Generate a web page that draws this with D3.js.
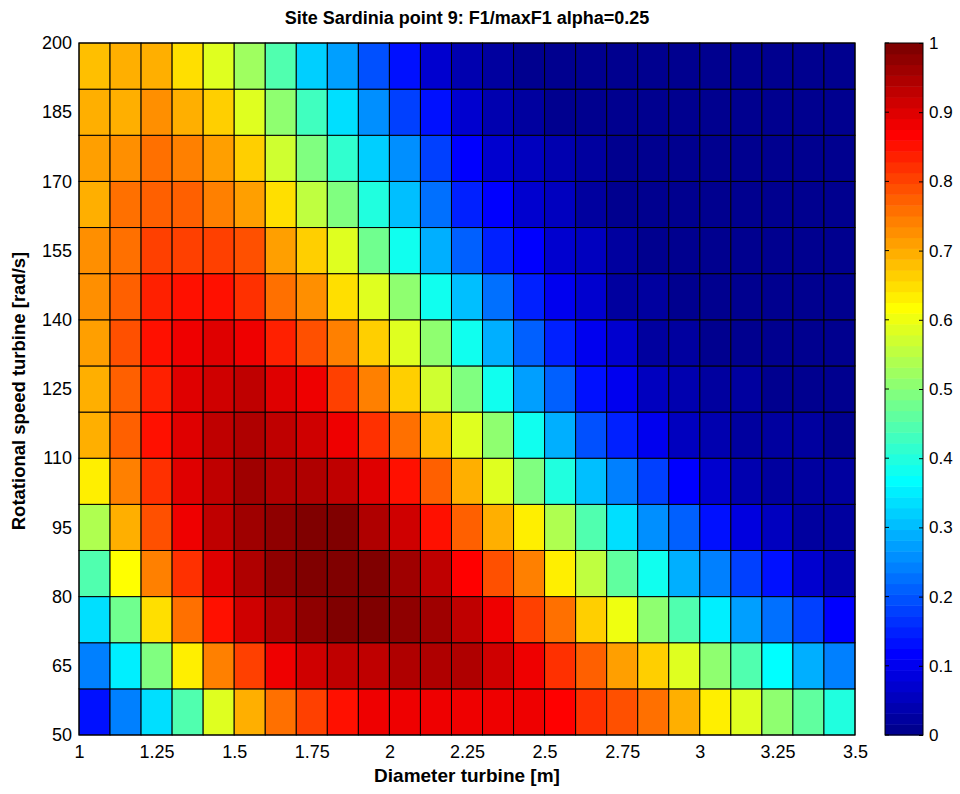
<!DOCTYPE html>
<html>
<head>
<meta charset="utf-8">
<script src="https://cdn.jsdelivr.net/npm/d3@7/dist/d3.min.js"></script>
<style>
  html, body { margin: 0; padding: 0; background: #fff; }
  svg { display: block; }
  text { font-family: Arial, "Liberation Sans", Helvetica, sans-serif; fill: #000; }
</style>
</head>
<body>
<svg id="chart" width="960" height="794"></svg>
<script>
// ---- Data ----
const title = "Site Sardinia point 9: F1/maxF1 alpha=0.25";
const xLabel = "Diameter turbine [m]";
const yLabel = "Rotational speed turbine [rad/s]";

// left edges of diameter cells [m]
const diameters = [1.0,1.1,1.2,1.3,1.4,1.5,1.6,1.7,1.8,1.9,2.0,2.1,2.2,2.3,2.4,2.5,2.6,2.7,2.8,2.9,3.0,3.1,3.2,3.3,3.4];
// lower edges of rotational-speed cells [rad/s]
const speeds = [50,60,70,80,90,100,110,120,130,140,150,160,170,180,190];

const xTicks = [1,1.25,1.5,1.75,2,2.25,2.5,2.75,3,3.25,3.5];
const xTickLabels = ["1","1.25","1.5","1.75","2","2.25","2.5","2.75","3","3.25","3.5"];
const yTicks = [50,65,80,95,110,125,140,155,170,185,200];
const cbTicks = [0,0.1,0.2,0.3,0.4,0.5,0.6,0.7,0.8,0.9,1];
const cbTickLabels = ["0","0.1","0.2","0.3","0.4","0.5","0.6","0.7","0.8","0.9","1"];

// F1/maxF1 per speed row (values along diameters)
const f50  = [0.14,0.24,0.34,0.45,0.59,0.69,0.76,0.80,0.85,0.875,0.89,0.89,0.89,0.89,0.875,0.86,0.825,0.79,0.76,0.70,0.64,0.59,0.51,0.46,0.40];
const f60  = [0.24,0.345,0.49,0.625,0.74,0.81,0.875,0.91,0.93,0.93,0.945,0.945,0.94,0.91,0.875,0.825,0.775,0.71,0.66,0.59,0.51,0.45,0.36,0.29,0.24];
const f70  = [0.34,0.475,0.65,0.75,0.845,0.91,0.94,0.97,0.985,0.985,0.975,0.955,0.93,0.875,0.80,0.75,0.67,0.60,0.51,0.44,0.35,0.275,0.225,0.175,0.11];
const f80  = [0.45,0.61,0.74,0.825,0.90,0.94,0.975,1.0,1.0,0.985,0.955,0.93,0.86,0.79,0.74,0.64,0.56,0.46,0.375,0.29,0.24,0.175,0.125,0.075,0.04];
const f90  = [0.54,0.69,0.795,0.875,0.93,0.96,0.975,0.985,0.985,0.95,0.92,0.85,0.775,0.70,0.625,0.54,0.44,0.34,0.26,0.21,0.125,0.09,0.05,0.03,0.02];
const f100 = [0.63,0.74,0.825,0.90,0.93,0.955,0.95,0.95,0.93,0.90,0.85,0.775,0.69,0.59,0.49,0.40,0.31,0.24,0.175,0.11,0.075,0.04,0.03,0.02,0.02];
const f110 = [0.69,0.775,0.845,0.90,0.93,0.95,0.93,0.92,0.875,0.825,0.75,0.675,0.59,0.50,0.375,0.29,0.20,0.15,0.10,0.06,0.04,0.025,0.02,0.02,0.01];
const f120 = [0.70,0.775,0.84,0.90,0.92,0.93,0.90,0.875,0.81,0.745,0.66,0.565,0.49,0.375,0.28,0.205,0.135,0.10,0.05,0.035,0.02,0.02,0.01,0.01,0.01];
const f130 = [0.71,0.79,0.85,0.875,0.90,0.875,0.84,0.79,0.74,0.66,0.59,0.50,0.375,0.29,0.21,0.15,0.10,0.07,0.03,0.02,0.01,0.01,0.01,0.01,0.01];
const f140 = [0.725,0.775,0.84,0.85,0.85,0.825,0.76,0.72,0.655,0.59,0.50,0.375,0.30,0.225,0.15,0.10,0.065,0.03,0.02,0.01,0.01,0.01,0.01,0.01,0.01];
const f150 = [0.72,0.76,0.805,0.81,0.81,0.79,0.71,0.66,0.59,0.475,0.375,0.29,0.21,0.15,0.11,0.075,0.05,0.02,0.01,0.01,0.01,0.01,0.01,0.01,0.01];
const f160 = [0.70,0.75,0.775,0.77,0.74,0.71,0.65,0.56,0.49,0.40,0.30,0.225,0.15,0.11,0.075,0.05,0.03,0.01,0.01,0.01,0.01,0.01,0.01,0.01,0.01];
const f170 = [0.705,0.725,0.75,0.74,0.705,0.66,0.575,0.49,0.42,0.325,0.25,0.175,0.11,0.075,0.05,0.035,0.02,0.01,0.01,0.01,0.01,0.01,0.01,0.01,0.01];
const f180 = [0.69,0.70,0.725,0.695,0.67,0.59,0.51,0.43,0.33,0.26,0.18,0.125,0.075,0.04,0.025,0.015,0.01,0.01,0.01,0.01,0.01,0.01,0.01,0.01,0.01];
const f190 = [0.675,0.695,0.69,0.65,0.59,0.525,0.45,0.325,0.27,0.19,0.125,0.075,0.04,0.02,0.015,0.01,0.01,0.01,0.01,0.01,0.01,0.01,0.01,0.01,0.01];
const rows = [f50,f60,f70,f80,f90,f100,f110,f120,f130,f140,f150,f160,f170,f180,f190];

// ---- Layout ----
const L = 79, R = 855, T = 43, B = 735;
const CBL = 885, CBR = 923;
const FONT = "Arial, 'Liberation Sans', Helvetica, sans-serif";

const svg = d3.select("#chart");
const x = d3.scaleLinear().domain([1, 3.5]).range([L, R]);
const y = d3.scaleLinear().domain([50, 200]).range([B, T]);
const cy = d3.scaleLinear().domain([0, 1]).range([B, T]);

// MATLAB jet(64)
function jetCont(v) {
  const c = t => Math.max(0, Math.min(1, t));
  const r = c(Math.min(4 * v - 1.5, -4 * v + 4.5));
  const g = c(Math.min(4 * v - 0.5, -4 * v + 3.5));
  const b = c(Math.min(4 * v + 0.5, -4 * v + 2.5));
  return d3.rgb(r * 255, g * 255, b * 255).toString();
}
function jet64(v) {
  const i = Math.min(64, Math.max(1, Math.floor(v * 64) + 1));
  return jetCont(i / 64);
}

// cells
const cells = [];
rows.forEach((row, ri) => row.forEach((v, ci) => cells.push({ d: diameters[ci], s: speeds[ri], v })));

svg.append("g").selectAll("rect").data(cells).join("rect")
  .attr("x", d => x(d.d))
  .attr("y", d => y(d.s + 10))
  .attr("width", d => x(d.d + 0.1) - x(d.d))
  .attr("height", d => y(d.s) - y(d.s + 10))
  .attr("fill", d => jet64(d.v))
  .attr("stroke", "#000")
  .attr("stroke-width", 1);

// axes box
svg.append("rect").attr("x", L).attr("y", T).attr("width", R - L).attr("height", B - T)
  .attr("fill", "none").attr("stroke", "#000").attr("stroke-width", 1);

// x axis
const xAxis = d3.axisBottom(x).tickValues(xTicks)
  .tickFormat((d, i) => xTickLabels[i]).tickSizeInner(0).tickSizeOuter(0).tickPadding(10);
const gx = svg.append("g").attr("transform", `translate(0,${B})`).call(xAxis);
gx.select(".domain").remove();
gx.selectAll("text").attr("font-size", 18).attr("font-family", FONT);

// y axis
const yAxis = d3.axisLeft(y).tickValues(yTicks).tickFormat(d3.format("d"))
  .tickSizeInner(0).tickSizeOuter(0).tickPadding(7);
const gy = svg.append("g").attr("transform", `translate(${L},0)`).call(yAxis);
gy.select(".domain").remove();
gy.selectAll("text").attr("font-size", 18).attr("font-family", FONT);

// title and labels
svg.append("text").attr("x", (L + R) / 2).attr("y", 24).attr("text-anchor", "middle")
  .attr("font-size", 18).attr("font-weight", "bold").text(title);
svg.append("text").attr("x", (L + R) / 2).attr("y", 782).attr("text-anchor", "middle")
  .attr("font-size", 19).attr("font-weight", "bold").text(xLabel);
svg.append("text").attr("transform", `translate(25,${(T + B) / 2 + 2}) rotate(-90)`).attr("text-anchor", "middle")
  .attr("font-size", 18.5).attr("font-weight", "bold").text(yLabel);

// colorbar
const levels = d3.range(64);
svg.append("g").selectAll("rect").data(levels).join("rect")
  .attr("x", CBL)
  .attr("y", i => cy((i + 1) / 64))
  .attr("width", CBR - CBL)
  .attr("height", i => cy(i / 64) - cy((i + 1) / 64) + 0.5)
  .attr("fill", i => jetCont((i + 1) / 64));
svg.append("rect").attr("x", CBL).attr("y", T).attr("width", CBR - CBL).attr("height", B - T)
  .attr("fill", "none").attr("stroke", "#000").attr("stroke-width", 1);

const cbAxis = d3.axisRight(cy).tickValues(cbTicks).tickFormat((d, i) => cbTickLabels[i])
  .tickSizeInner(-4).tickSizeOuter(0).tickPadding(6);
const gcb = svg.append("g").attr("transform", `translate(${CBR},0)`).call(cbAxis);
gcb.select(".domain").remove();
gcb.selectAll("line").attr("stroke", "#000");
gcb.selectAll("text").attr("font-size", 17).attr("font-family", FONT);
// inner ticks on left edge of colorbar
svg.append("g").selectAll("line").data(cbTicks).join("line")
  .attr("x1", CBL).attr("x2", CBL + 4)
  .attr("y1", d => cy(d)).attr("y2", d => cy(d))
  .attr("stroke", "#000");
</script>
</body>
</html>
